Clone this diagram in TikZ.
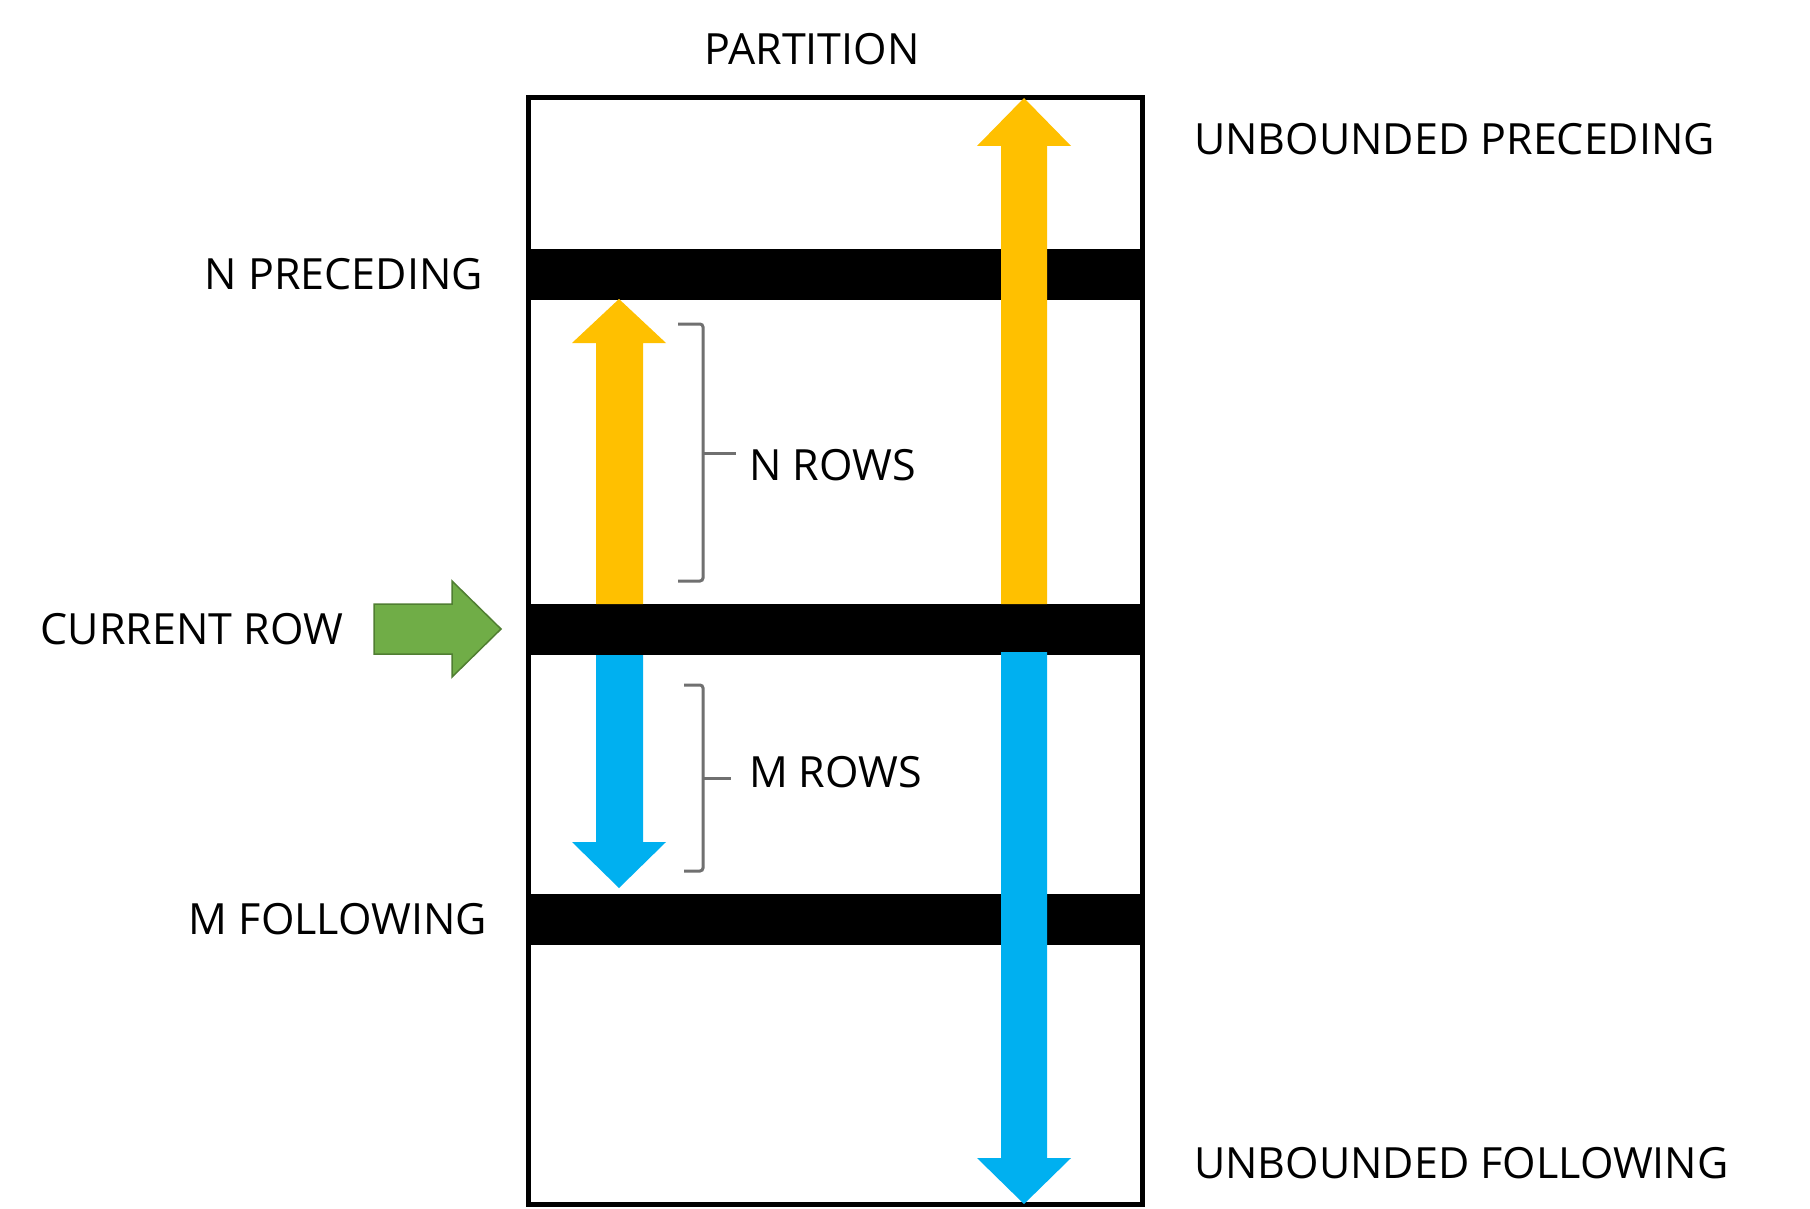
\documentclass[tikz,border=0pt]{standalone}
\usepackage{fontspec}
\setmainfont{Open Sans}
\definecolor{arrowyellow}{HTML}{FFC000}
\definecolor{arrowblue}{HTML}{00B0F0}
\definecolor{arrowgreen}{HTML}{70AD47}
\definecolor{arrowgreenline}{HTML}{507E32}
\definecolor{bracketgray}{HTML}{707070}
\tikzset{
  lbl/.style={inner sep=0pt, outer sep=0pt, font=\fontsize{43}{51}\selectfont, text=black},
  barfill/.style={fill=black},
  yellowarrow/.style={fill=arrowyellow, draw=none},
  bluearrow/.style={fill=arrowblue, draw=none},
  greenarrow/.style={fill=arrowgreen, draw=arrowgreenline, line width=1.5pt, line join=miter},
  bracketline/.style={draw=bracketgray, line width=3pt, rounded corners=3pt},
  partbox/.style={draw=black, line width=5pt}
}
\begin{document}
\begin{tikzpicture}[x=1pt, y=-1pt]
\useasboundingbox (0,0) rectangle (1810,1209);
\fill[white] (0,0) rectangle (1810,1209);

% partition box
\draw[partbox] (528.5,98) rectangle (1142.5,1204.5);

% black bars
\fill[barfill] (531,249) rectangle (1142.5,300);
\fill[barfill] (531,604) rectangle (1142.5,655);
\fill[barfill] (531,894) rectangle (1142.5,945);

% big yellow arrow (unbounded preceding)
\fill[yellowarrow] (1001,604) -- (1001,146) -- (977,146) -- (1024,98) -- (1071,146) -- (1047,146) -- (1047,604) -- cycle;
% small yellow arrow (N preceding)
\fill[yellowarrow] (596,604) -- (596,343) -- (572,343) -- (619,299) -- (666,343) -- (643,343) -- (643,604) -- cycle;
% small blue arrow (M following)
\fill[bluearrow] (596,655) -- (596,842) -- (572,842) -- (619,888) -- (666,842) -- (643,842) -- (643,655) -- cycle;
% big blue arrow (unbounded following)
\fill[bluearrow] (1001,652) -- (1001,1158) -- (977,1158) -- (1024,1204) -- (1071,1158) -- (1047,1158) -- (1047,652) -- cycle;

% green arrow (current row)
\draw[greenarrow] (374,604) -- (452,604) -- (452,581) -- (501,629) -- (452,677) -- (452,654) -- (374,654) -- cycle;

% brackets
\draw[bracketline] (678,324) -- (703,324) -- (703,581) -- (678,581);
\draw[bracketline] (703,453) -- (736,453);
\draw[bracketline] (684,685) -- (703,685) -- (703,871) -- (684,871);
\draw[bracketline] (703,778) -- (731,778);

% labels
\node[lbl] (partition) at (812,49.5) {PARTITION};
\node[lbl, anchor=west] (unbprec) at (1194,139) {UNBOUNDED PRECEDING};
\node[lbl, anchor=west] (unbfoll) at (1194,1163.5) {UNBOUNDED FOLLOWING};
\node[lbl, anchor=east] (nprec) at (483,274.5) {N PRECEDING};
\node[lbl, anchor=east] (currow) at (343,629) {CURRENT ROW};
\node[lbl, anchor=east] (mfoll) at (487,919.5) {M FOLLOWING};
\node[lbl, anchor=west] (nrows) at (749,465) {N ROWS};
\node[lbl, anchor=west] (mrows) at (749,772) {M ROWS};
\end{tikzpicture}
\end{document}
